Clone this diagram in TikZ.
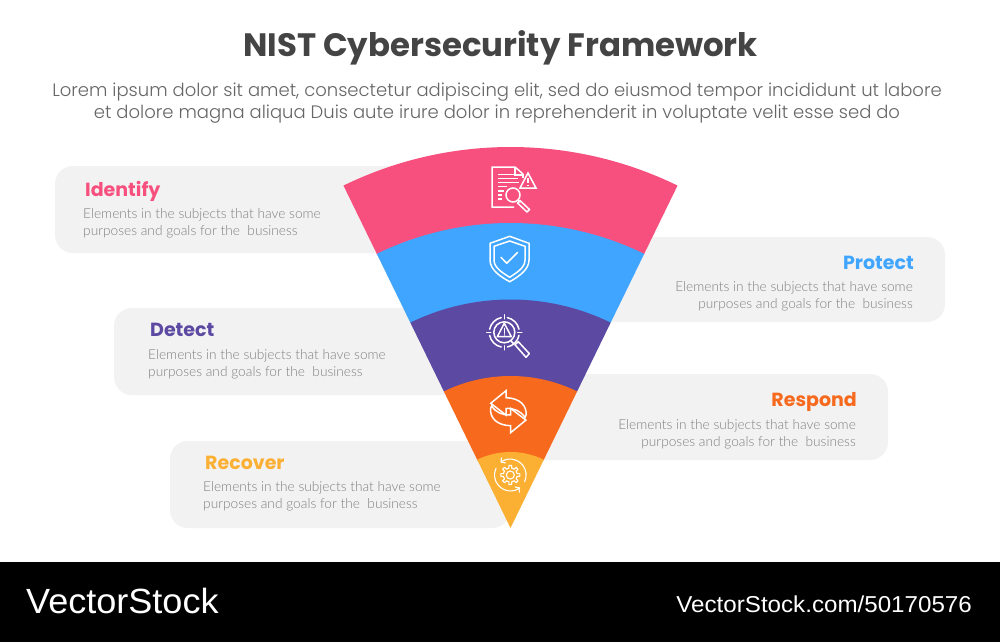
\documentclass[tikz,border=0pt]{standalone}
\usepackage{fontspec}
\usetikzlibrary{arrows.meta}
\setmainfont{Poppins}
\newfontfamily\bodyfont{Lato Light}
\newfontfamily\popfont{Poppins}
\newfontfamily\poplight{Poppins Light}
\newfontfamily\vsfont[FakeStretch=1.03]{Liberation Sans}
\newfontfamily\urlfont[FakeStretch=1.05]{Liberation Sans}
\definecolor{cpink}{HTML}{F7507E}
\definecolor{cblue}{HTML}{3FA5FE}
\definecolor{cpurple}{HTML}{5B49A2}
\definecolor{corange}{HTML}{F7691D}
\definecolor{cyellow}{HTML}{FBB034}
\definecolor{cbox}{HTML}{F2F2F2}
\definecolor{ctitle}{HTML}{444444}
\definecolor{csub}{HTML}{666666}
\definecolor{cbody}{HTML}{808080}
\tikzset{
  headL/.style={font=\popfont\bfseries\fontsize{19}{22}\selectfont,anchor=base west,inner sep=0},
  headR/.style={font=\popfont\bfseries\fontsize{19}{22}\selectfont,anchor=base east,inner sep=0},
  bodyL/.style={font=\bodyfont\fontsize{13.7}{17}\selectfont,text=cbody,anchor=north west,inner sep=0,align=left},
  bodyR/.style={font=\bodyfont\fontsize{13.7}{17}\selectfont,text=cbody,anchor=north east,inner sep=0,align=right},
  icon/.style={draw=white,line width=1.5pt,line join=miter,fill=none},
  iconf/.style={draw=white,line width=1.5pt,line cap=round,line join=round,fill=none},
}
\begin{document}
\begin{tikzpicture}[x=1pt,y=-1pt]
\useasboundingbox (0,0) rectangle (1000,642);
\fill[white] (0,0) rectangle (1000,642);
\fill[black] (0,562) rectangle (1000,642);
\node[font=\popfont\bfseries\fontsize{32.4}{38}\selectfont,text=ctitle,inner sep=0] (title) at (500.5,47.5) {NIST Cybersecurity Framework};
\node[font=\poplight\fontsize{18}{22.4}\selectfont,text=csub,align=center,inner sep=0] (sub) at (497,103) {Lorem ipsum dolor sit amet, consectetur adipiscing elit, sed do eiusmod tempor incididunt ut labore\\et dolore magna aliqua Duis aute irure dolor in reprehenderit in voluptate velit esse sed do};
% panels: rounded on the free side only
\fill[cbox,rounded corners=18pt] (470,166) -- (55,166) -- (55,253) -- (470,253) [sharp corners] -- cycle;
\fill[cbox,rounded corners=18pt] (550,237) -- (945,237) -- (945,322) -- (550,322) [sharp corners] -- cycle;
\fill[cbox,rounded corners=18pt] (500,308) -- (114,308) -- (114,395) -- (500,395) [sharp corners] -- cycle;
\fill[cbox,rounded corners=18pt] (520,374) -- (888,374) -- (888,460) -- (520,460) [sharp corners] -- cycle;
\fill[cbox,rounded corners=18pt] (510,441) -- (170,441) -- (170,528) -- (510,528) [sharp corners] -- cycle;
% wedge bands
\begin{scope}[shift={(510.5,528)},x=1pt,y=1pt]
\fill[cpink] (116:381) arc[start angle=116,end angle=64,radius=381pt] -- (64:304) arc[start angle=64,end angle=116,radius=304pt] -- cycle;
\fill[cblue] (116:305) arc[start angle=116,end angle=64,radius=305pt] -- (64:228) arc[start angle=64,end angle=116,radius=228pt] -- cycle;
\fill[cpurple] (116:228.5) arc[start angle=116,end angle=64,radius=228.5pt] -- (64:151) arc[start angle=64,end angle=116,radius=151pt] -- cycle;
\fill[corange] (116:152) arc[start angle=116,end angle=64,radius=152pt] -- (64:75) arc[start angle=64,end angle=116,radius=75pt] -- cycle;
\fill[cyellow] (116:76) arc[start angle=116,end angle=64,radius=76pt] -- (0,0) -- cycle;
\end{scope}
% texts
\node[headL,text=cpink] (h1) at (85,196) {Identify};
\node[bodyL] (b1) at (83,208.5) {Elements in the subjects that have some\\purposes and goals for the\ \ business};
\node[headR,text=cblue] (h2) at (914,269) {Protect};
\node[bodyR] (b2) at (913,281) {Elements in the subjects that have some\\purposes and goals for the\ \ business};
\node[headL,text=cpurple] (h3) at (150,336) {Detect};
\node[bodyL] (b3) at (148,349) {Elements in the subjects that have some\\purposes and goals for the\ \ business};
\node[headR,text=corange] (h4) at (857,406) {Respond};
\node[bodyR] (b4) at (856,419) {Elements in the subjects that have some\\purposes and goals for the\ \ business};
\node[headL,text=cyellow] (h5) at (205,469) {Recover};
\node[bodyL] (b5) at (203,481.5) {Elements in the subjects that have some\\purposes and goals for the\ \ business};
% footer
\node[font=\vsfont\fontsize{35}{40}\selectfont,text=white,anchor=base west,inner sep=0] (vs) at (26,613) {VectorStock};
\node[font=\urlfont\fontsize{23}{25}\selectfont,text=white,anchor=base east,inner sep=0] (url) at (972,612) {VectorStock.com/50170576};
% icon 1: document
\draw[icon] (523,174) -- (515,167) -- (492,167) -- (492,207) -- (514,207);
\draw[icon] (515,167) -- (515,175) -- (523,175) -- (523,178);
\draw[icon] (528,173) -- (536,188) -- (520,188) -- cycle;
\draw[icon] (528,178) -- (528,183) (528,184.5) -- (528,186);
\draw[icon] (513,195) circle[radius=7pt];
\draw[iconf] (518,200) -- (520,202);
\draw[iconf] (520,200.5) -- (529.5,209.5) -- (527,212) -- (517.5,203) -- cycle;
\draw[icon] (498,174.5) -- (514,174.5) (498,178.5) -- (518,178.5) (498,182.5) -- (519,182.5) (498,186.5) -- (507,186.5) (498,191) -- (504,191) (498,195) -- (502,195) (498,199) -- (502,199);
% icon 2: shield
\draw[icon] (509.7,236.3) -- (529,243.3) -- (529,260) .. controls (529,270) and (518,277) .. (509.7,281.7) .. controls (501,277) and (490,270) .. (490,260) -- (490,243.3) -- cycle;
\draw[icon] (509.7,241) -- (525,246.3) -- (525,260) .. controls (525,268) and (516,273) .. (509.7,277.3) .. controls (503,273) and (494,268) .. (494,260) -- (494,246.3) -- cycle;
\draw[iconf] (501,257.3) -- (506.7,263.3) -- (517.7,252.3);
% icon 3: detect
\begin{scope}[shift={(504.3,332.3)},x=1pt,y=1pt]
\draw[icon] (0,0) circle[radius=10.5pt];
\foreach \a in {0,90,180,270}{
  \draw[iconf] (\a+12:15) arc[start angle=\a+12,end angle=\a+78,radius=15pt];
}
\draw[iconf] (0,13.5) -- (0,17.5) (0,-13.5) -- (0,-17.5) (13.5,0) -- (17.5,0) (-13.5,0) -- (-17.5,0);
\draw[iconf] (0,9) -- (7,-4.4) -- (-7,-4.4) -- cycle;
\draw[iconf] (0,4) -- (0,-1) (0,-2.6) -- (0,-2.8);
\end{scope}
\draw[iconf] (511,341) -- (514,344);
\draw[iconf] (515,344.8) -- (518.3,341.7) -- (529.3,353.6) -- (526,357.3) -- cycle;
% icon 4: arrows
\draw[icon] (490.7,403.3) -- (506,390.7) -- (506,397.7) .. controls (520,398) and (527,406) .. (526,415) -- (525,417.5) .. controls (521,411) and (514,408) .. (506,408.5) -- (506,415) -- cycle;
\begin{scope}[rotate around={180:(508.3,411.7)}]
\draw[icon] (490.7,403.3) -- (506,390.7) -- (506,397.7) .. controls (520,398) and (527,406) .. (526,415) -- (525,417.5) .. controls (521,411) and (514,408) .. (506,408.5) -- (506,415) -- cycle;
\end{scope}
% icon 5: gear
\begin{scope}[shift={(510.3,475)},x=1pt,y=1pt]
\draw[icon,line width=1.1pt] (0,0) circle[radius=4pt];
\foreach \a in {0,45,...,315}{
  \draw[iconf,line width=1.1pt] (\a+12:7) arc[start angle=\a+12,end angle=\a+33,radius=7pt];
  \draw[iconf,line width=1.1pt] (\a-12:7) -- (\a-8:9.6) -- (\a+8:9.6) -- (\a+12:7);
}
\draw[iconf,line width=1.1pt,{Straight Barb[length=3pt,width=7pt]}-] (128:15.8) arc[start angle=128,end angle=-25,radius=15.8pt];
\draw[iconf,line width=1.1pt,{Straight Barb[length=3pt,width=7pt]}-] (-52:15.8) arc[start angle=-52,end angle=-205,radius=15.8pt];
\end{scope}
\end{tikzpicture}
\end{document}
